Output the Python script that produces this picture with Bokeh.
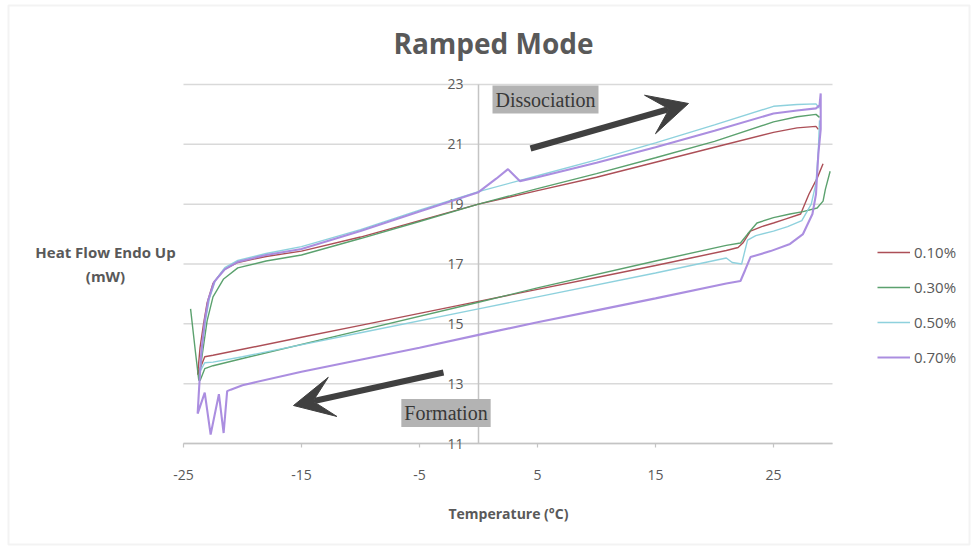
from bokeh.plotting import figure
from bokeh.models import Label, Arrow, VeeHead, Legend, LegendItem, BoxAnnotation
from bokeh.core.properties import value
from bokeh.embed import file_html
from bokeh.resources import INLINE

nan = float("nan")

# ---------------- data ----------------
series_labels = ["0.10%", "0.30%", "0.50%", "0.70%"]
series_colors = ["#a8464e", "#529c66", "#88cfdb", "#a688de"]

x_ticks = [-25, -15, -5, 5, 15, 25]
x_tick_labels = ["-25", "-15", "-5", "5", "15", "25"]
y_ticks = [11, 13, 15, 17, 19, 21, 23]
y_tick_labels = ["11", "13", "15", "17", "19", "21", "23"]
x_axis_min, x_axis_max = -25, 30

# 0.10 %
x_010 = [29.2, 28.7, 28.0, 27.3, 26.0, 25.0, 24.0, 23.05, 22.4, 22.0, 21.0, 18.0, 15.0, 10.0, 5.0, 0.0,
         -5.0, -10.0, -15.0, -20.0, -22.5, -23.2, -23.8,
         -23.6, -23.3, -23.0, -22.5, -21.6, -20.4, -18.0, -15.0, -10.0, -5.0, 0.0, 5.0, 10.0, 15.0,
         20.0, 25.0, 27.0, 28.6, 28.8]
y_010 = [20.35, 19.87, 19.33, 18.67, 18.5, 18.37, 18.25, 18.1, 17.7, 17.55, 17.45, 17.2, 16.95, 16.55, 16.15, 15.75,
         15.35, 14.95, 14.55, 14.15, 13.95, 13.9, 13.3,
         14.2, 15.0, 15.7, 16.35, 16.8, 17.05, 17.25, 17.43, 17.9, 18.45, 19.0, 19.45, 19.9, 20.4,
         20.9, 21.4, 21.55, 21.6, 21.5]

# 0.30 %
x_030 = [29.8, 29.4, 29.2, 28.7, 27.5, 26.4, 25.0, 23.6, 22.8, 22.2, 21.0, 15.0, 5.0, 0.0, -10.0, -20.0,
         -22.5, -23.2, -23.6, nan,
         -24.4, -24.0, -23.7, -23.4, -23.0, -22.5, -21.6, -20.4, -18.0, -15.0, -10.0, -5.0, 0.0, 5.0,
         10.0, 15.0, 20.0, 25.0, 27.0, 28.6, 28.9]
y_030 = [20.1, 19.5, 19.1, 18.87, 18.75, 18.67, 18.55, 18.37, 18.0, 17.7, 17.62, 17.1, 16.2, 15.72, 14.78, 13.84,
         13.6, 13.5, 13.1, nan,
         15.5, 14.1, 13.1, 14.0, 15.1, 15.9, 16.5, 16.87, 17.1, 17.3, 17.85, 18.42, 19.0, 19.52,
         20.02, 20.55, 21.1, 21.75, 21.92, 22.0, 21.9]

# 0.50 %
x_050 = [28.9, 28.8, 28.6, 28.2, 27.4, 26.2, 25.0, 23.5, 22.8, 22.3, 21.5, 21.0, 15.0, 5.0, 0.0, -10.0,
         -20.0, -22.5, -23.2, -23.6,
         -23.4, -23.1, -22.8, -22.3, -21.5, -20.4, -18.0, -15.0, -10.0, -5.0, 0.0, 5.0, 10.0, 15.0,
         20.0, 25.0, 27.0, 28.6, 28.9]
y_050 = [21.8, 20.8, 19.7, 19.0, 18.45, 18.25, 18.1, 17.95, 17.8, 17.0, 17.05, 17.2, 16.7, 15.9, 15.5, 14.7,
         13.9, 13.72, 13.7, 13.4,
         14.3, 15.2, 15.85, 16.45, 16.88, 17.12, 17.35, 17.58, 18.15, 18.8, 19.42, 19.95, 20.48, 21.05,
         21.65, 22.27, 22.33, 22.35, 22.2]

# 0.70 %
x_070 = [29.0, 29.0, 28.8, 28.6, 28.3, 27.5, 26.4, 24.75, 23.05, 22.6, 22.2, 21.0, 15.0, 10.0, 5.0, 0.0,
         -5.0, -10.0, -15.0, -20.0, -21.0, -21.3, -21.6, -22.0, -22.7, -23.2, -23.8,
         -23.7, -23.5, -23.2, -22.9, -22.4, -21.5, -20.4, -18.0, -15.0, -10.0, -5.0, 0.0, 1.5, 2.5,
         3.5, 5.0, 10.0, 15.0, 20.0, 25.0, 27.0, 28.6, 28.9, 29.0]
y_070 = [22.7, 21.5, 20.67, 19.33, 18.67, 18.0, 17.67, 17.43, 17.23, 16.8, 16.43, 16.35, 15.85, 15.45, 15.05, 14.63,
         14.2, 13.8, 13.4, 12.95, 12.8, 12.75, 11.35, 12.65, 11.3, 12.7, 12.0,
         12.7, 14.0, 15.1, 15.8, 16.4, 16.82, 17.07, 17.3, 17.5, 18.1, 18.75, 19.4, 19.85, 20.17,
         19.77, 19.9, 20.38, 20.9, 21.45, 22.03, 22.13, 22.2, 22.3, 22.7]

series_x = [x_010, x_030, x_050, x_070]
series_y = [y_010, y_030, y_050, y_070]
series_widths = [1.4, 1.4, 1.4, 2.1]

# ---------------- layout (pixel geometry of the chart) ----------------
W, H = 976, 547
PLOT_LEFT_PX, PLOT_BOTTOM_PX = 183, 443      # pixel of (x=-25, y=11)
PX_PER_X, PX_PER_Y = 11.8, 29.92


def xd(px):
    return x_axis_min + (px - PLOT_LEFT_PX) / PX_PER_X


def yd(py):
    return y_ticks[0] + (PLOT_BOTTOM_PX - py) / PX_PER_Y


TXT = "#595959"
FONT = "Open Sans"

p = figure(width=W, height=H, x_range=(xd(0), xd(W)), y_range=(yd(H), yd(0)),
           output_backend="svg", toolbar_location=None,
           x_axis_location=None, y_axis_location=None,
           min_border=0, min_border_left=0, min_border_right=0,
           min_border_top=0, min_border_bottom=0)
p.outline_line_color = None
p.background_fill_color = "white"
p.border_fill_color = "white"
for g in p.grid:
    g.visible = False

# chart border
p.add_layout(BoxAnnotation(left=xd(8), right=xd(969), top=yd(5), bottom=yd(544),
                           fill_alpha=0, line_color="#d6d6d6", line_width=2))

# horizontal gridlines
p.segment(x0=[x_axis_min] * len(y_ticks), x1=[x_axis_max] * len(y_ticks), y0=y_ticks, y1=y_ticks,
          line_color="#d9d9d9", line_width=1.5)

# x axis (at y = 11)
p.segment(x0=[x_axis_min], x1=[x_axis_max], y0=[y_ticks[0]], y1=[y_ticks[0]],
          line_color="#c4c4c4", line_width=1.5)
p.segment(x0=x_ticks, x1=x_ticks, y0=[y_ticks[0]] * len(x_ticks),
          y1=[yd(PLOT_BOTTOM_PX + 4)] * len(x_ticks), line_color="#c4c4c4", line_width=1.2)
p.text(x=x_ticks, y=[y_ticks[0]] * len(x_ticks), text=x_tick_labels, y_offset=31,
       text_align="center", text_baseline="middle", text_font=value(FONT),
       text_font_size="14px", text_color=TXT)

# y axis (at x = 0)
p.segment(x0=[0], x1=[0], y0=[y_ticks[0]], y1=[y_ticks[-1]], line_color="#c4c4c4", line_width=1.5)
p.text(x=[0] * len(y_ticks), y=y_ticks, text=y_tick_labels, x_offset=-15,
       text_align="right", text_baseline="middle", text_font=value(FONT),
       text_font_size="14px", text_color=TXT)

# curves
renderers = []
for xs, ys, c, w in zip(series_x, series_y, series_colors, series_widths):
    renderers.append(p.line(xs, ys, line_color=c, line_width=w, line_alpha=0.95))

# legend
legend = Legend(items=[LegendItem(label=l, renderers=[r]) for l, r in zip(series_labels, renderers)],
                location=(877, 180), orientation="vertical",
                glyph_width=33, glyph_height=20, label_height=20, spacing=15,
                label_standoff=4, padding=0, margin=0,
                border_line_color=None, background_fill_alpha=0,
                label_text_font=FONT, label_text_font_size="15px", label_text_color=TXT)
p.add_layout(legend)

# title and axis titles
p.add_layout(Label(x=xd(493), y=yd(42), text="Ramped Mode", text_align="center", text_baseline="middle",
                   text_font=FONT, text_font_style="bold", text_font_size="28px", text_color=TXT))
p.add_layout(Label(x=xd(105), y=yd(263.5), text="Heat Flow Endo Up\n(mW)", text_align="center",
                   text_baseline="middle", text_font=FONT, text_font_style="bold",
                   text_font_size="15px", text_color=TXT))
p.add_layout(Label(x=xd(508), y=yd(513), text="Temperature (°C)", text_align="center",
                   text_baseline="middle", text_font=FONT, text_font_style="bold",
                   text_font_size="14px", text_color=TXT))

# annotations
ARROW = "#404040"
p.add_layout(Arrow(end=VeeHead(size=40, fill_color=ARROW, line_color=ARROW),
                   x_start=xd(530), y_start=yd(148), x_end=xd(688), y_end=yd(103),
                   line_color=ARROW, line_width=6))
p.add_layout(Arrow(end=VeeHead(size=40, fill_color=ARROW, line_color=ARROW),
                   x_start=xd(443), y_start=yd(372), x_end=xd(293), y_end=yd(405),
                   line_color=ARROW, line_width=6))

p.add_layout(Label(x=xd(545), y=yd(99), text="Dissociation", text_align="center", text_baseline="middle",
                   text_font="Liberation Serif", text_font_size="20px", text_color="#383838",
                   background_fill_color="#b3b3b3", padding=3))
p.add_layout(Label(x=xd(445.5), y=yd(412.5), text="Formation", text_align="center", text_baseline="middle",
                   text_font="Liberation Serif", text_font_size="20px", text_color="#383838",
                   background_fill_color="#b3b3b3", padding=3))

open("out.html", "w").write(file_html(p, INLINE))
